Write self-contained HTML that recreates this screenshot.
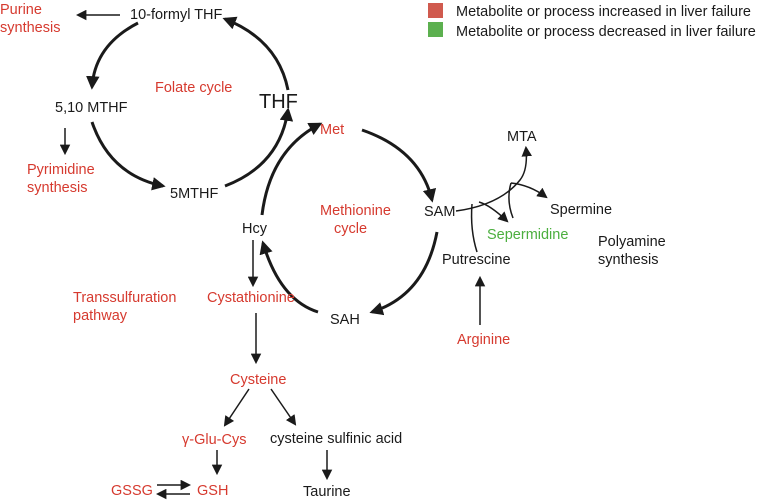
<!DOCTYPE html>
<html><head><meta charset="utf-8"><style>
body{margin:0;background:#fff}
svg{display:block}
text{font-family:"Liberation Sans",Arial,sans-serif;font-size:14.5px;fill:#1a1a1a}
.r{fill:#d63a2f}.g{fill:#4caf3f}
</style></head><body>
<svg width="759" height="500" viewBox="0 0 759 500">
<defs>
<marker id="a" viewBox="0 0 10 10" refX="8" refY="5" markerWidth="4.5" markerHeight="4.5" orient="auto-start-reverse"><path d="M0,0L10,5L0,10z" fill="#1a1a1a"/></marker>
<marker id="s" viewBox="0 0 10 10" refX="8" refY="5" markerWidth="7" markerHeight="7" orient="auto"><path d="M0,0L10,5L0,10z" fill="#1a1a1a"/></marker>
</defs>
<rect x="428" y="3" width="15" height="15" fill="#d05a4e"/>
<rect x="428" y="22" width="15" height="15" fill="#5cb04f"/>
<text x="456" y="16">Metabolite or process increased in liver failure</text>
<text x="456" y="36">Metabolite or process decreased in liver failure</text>

<g fill="none" stroke="#1a1a1a" stroke-width="3">
<path d="M138,23 Q95,45 92,87" marker-end="url(#a)"/>
<path d="M92,122 Q110,175 163,186" marker-end="url(#a)"/>
<path d="M225,186 Q280,165 288,110" marker-end="url(#a)"/>
<path d="M288,90 Q278,40 225,19" marker-end="url(#a)"/>
<path d="M262,215 Q270,150 320,124" marker-end="url(#a)"/>
<path d="M362,130 Q420,150 432,200" marker-end="url(#a)"/>
<path d="M437,232 Q425,295 372,312" marker-end="url(#a)"/>
<path d="M318,312 Q280,300 263,243" marker-end="url(#a)"/>
</g>
<g fill="none" stroke="#1a1a1a" stroke-width="1.5">
<path d="M120,15 L78,15" marker-end="url(#s)"/>
<path d="M65,128 L65,153" marker-end="url(#s)"/>
<path d="M253,240 L253,285" marker-end="url(#s)"/>
<path d="M256,313 L256,362" marker-end="url(#s)"/>
<path d="M249,389 L225,425" marker-end="url(#s)"/>
<path d="M271,389 L295,424" marker-end="url(#s)"/>
<path d="M217,450 L217,473" marker-end="url(#s)"/>
<path d="M327,450 L327,478" marker-end="url(#s)"/>
<path d="M157,485 L189,485" marker-end="url(#s)"/>
<path d="M190,494 L158,494" marker-end="url(#s)"/>
<path d="M480,325 L480,278" marker-end="url(#s)"/>
<path d="M456,211 Q500,205 520,180 Q528,170 526,148" marker-end="url(#s)"/>
<path d="M479,202 Q490,205 507,221" marker-end="url(#s)"/>
<path d="M511,183 Q530,185 546,197" marker-end="url(#s)"/>
<path d="M472,204 Q470,230 477,252"/>
<path d="M511,183 Q506,200 513,218"/>
</g>

<text x="130" y="19">10-formyl THF</text>
<text class="r" x="0" y="14">Purine</text>
<text class="r" x="0" y="32">synthesis</text>
<text class="r" x="155" y="92">Folate cycle</text>
<text x="55" y="112">5,10 MTHF</text>
<text x="259" y="108" style="font-size:20px">THF</text>
<text class="r" x="27" y="174">Pyrimidine</text>
<text class="r" x="27" y="192">synthesis</text>
<text x="170" y="198">5MTHF</text>
<text class="r" x="320" y="134">Met</text>
<text x="424" y="216">SAM</text>
<text x="507" y="141">MTA</text>
<text x="550" y="214">Spermine</text>
<text class="g" x="487" y="239">Sepermidine</text>
<text x="598" y="246">Polyamine</text>
<text x="598" y="264">synthesis</text>
<text x="442" y="264">Putrescine</text>
<text class="r" x="320" y="215">Methionine</text>
<text class="r" x="334" y="233">cycle</text>
<text x="242" y="233">Hcy</text>
<text x="330" y="324">SAH</text>
<text class="r" x="457" y="344">Arginine</text>
<text class="r" x="73" y="302">Transsulfuration</text>
<text class="r" x="73" y="320">pathway</text>
<text class="r" x="207" y="302">Cystathionine</text>
<text class="r" x="230" y="384">Cysteine</text>
<text class="r" x="182" y="444">γ-Glu-Cys</text>
<text x="270" y="443">cysteine sulfinic acid</text>
<text class="r" x="111" y="495">GSSG</text>
<text class="r" x="197" y="495">GSH</text>
<text x="303" y="496">Taurine</text>
</svg>
</body></html>
